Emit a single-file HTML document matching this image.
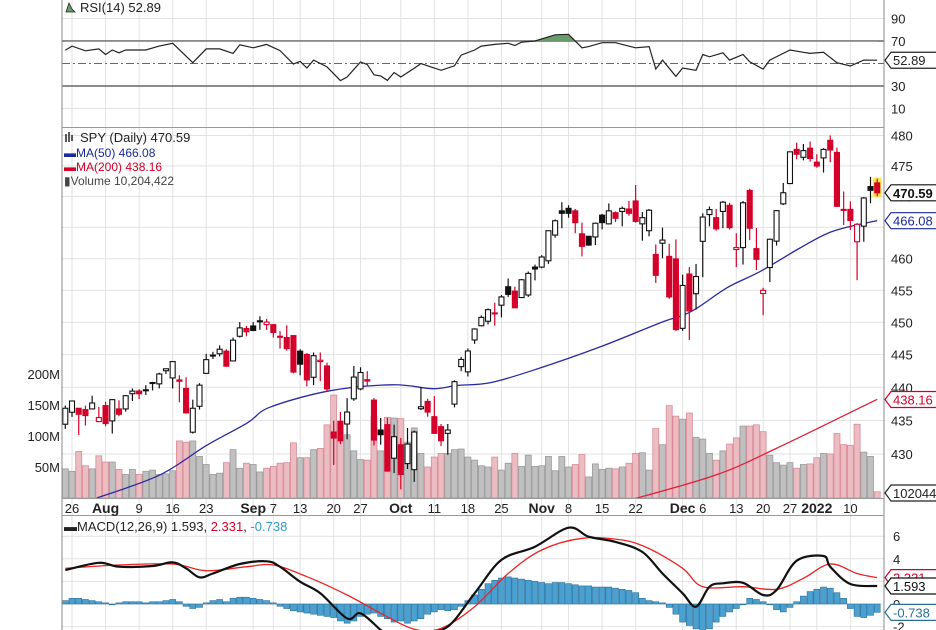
<!DOCTYPE html>
<html><head><meta charset="utf-8"><style>
body{margin:0;background:#fff;}
svg{display:block;font-family:"Liberation Sans",Arial,sans-serif;}
</style></head><body>
<svg id="c" width="936" height="630" viewBox="0 0 936 630" xmlns="http://www.w3.org/2000/svg">
<defs>
<clipPath id="cpMain"><rect x="62" y="128" width="822" height="370"/></clipPath>
<clipPath id="cpMacd"><rect x="62" y="516" width="822" height="114"/></clipPath>
<clipPath id="cpOb"><rect x="62" y="0" width="822" height="41.5"/></clipPath>
</defs>
<g id="grid"></g>
<g id="vol" clip-path="url(#cpMain)"></g>
<g id="ma" clip-path="url(#cpMain)"></g>
<g id="candles" clip-path="url(#cpMain)"></g>
<g id="rsi"></g>
<g id="macd" clip-path="url(#cpMacd)"></g>
<g id="frame">
<line x1="62" y1="0" x2="62" y2="630" stroke="#888"/>
<line x1="884" y1="0" x2="884" y2="630" stroke="#888"/>
<line x1="62" y1="127.5" x2="884" y2="127.5" stroke="#999"/>
<line x1="62" y1="498.5" x2="884" y2="498.5" stroke="#999"/>
<line x1="62" y1="515.5" x2="884" y2="515.5" stroke="#999"/>
</g>
<g id="labels">
<text x="80" y="12" font-size="13" fill="#222">RSI(14) 52.89</text>
<path d="M66 12 L69 3 L72 9 L75 12 Z" fill="#6b9a6b" stroke="#222" stroke-width="0.8"/>
<text x="80" y="142" font-size="13" fill="#222">SPY (Daily) 470.59</text>
<path d="M66 134v8M69 132v10M72 135v6" stroke="#222" stroke-width="1.5"/>
<text x="64" y="157" font-size="12" fill="#1a2a9a">▬MA(50) 466.08</text>
<text x="64" y="171" font-size="12" fill="#d4002a">▬MA(200) 438.16</text>
<text x="64" y="185" font-size="12" fill="#444">▮Volume 10,204,422</text>
<text x="64" y="531" font-size="13" fill="#222">▬MACD(12,26,9) 1.593, <tspan fill="#d4002a">2.331</tspan>, <tspan fill="#3399cc">-0.738</tspan></text>
</g>
</svg>
<script>
// ---- data ----
const dates = ["Jul23","Jul26","Jul27","Jul28","Jul29","Jul30","Aug2","Aug3","Aug4","Aug5","Aug6","Aug9","Aug10","Aug11","Aug12","Aug13","Aug16","Aug17","Aug18","Aug19","Aug20","Aug23","Aug24","Aug25","Aug26","Aug27","Aug30","Aug31","Sep1","Sep2","Sep3","Sep7","Sep8","Sep9","Sep10","Sep13","Sep14","Sep15","Sep16","Sep17","Sep20","Sep21","Sep22","Sep23","Sep24","Sep27","Sep28","Sep29","Sep30","Oct1","Oct4","Oct5","Oct6","Oct7","Oct8","Oct11","Oct12","Oct13","Oct14","Oct15","Oct18","Oct19","Oct20","Oct21","Oct22","Oct25","Oct26","Oct27","Oct28","Oct29","Nov1","Nov2","Nov3","Nov4","Nov5","Nov8","Nov9","Nov10","Nov11","Nov12","Nov15","Nov16","Nov17","Nov18","Nov19","Nov22","Nov23","Nov24","Nov26","Nov29","Nov30","Dec1","Dec2","Dec3","Dec6","Dec7","Dec8","Dec9","Dec10","Dec13","Dec14","Dec15","Dec16","Dec17","Dec20","Dec21","Dec22","Dec23","Dec27","Dec28","Dec29","Dec30","Dec31","Jan3","Jan4","Jan5","Jan6","Jan7","Jan10","Jan11","Jan12","Jan13"];
const opens = [437.5,439.3,439.9,439.7,439.8,437.9,440.3,438.0,439.8,439.8,442.1,442.5,442.6,443.8,443.6,445.6,444.5,444.2,442.9,436.3,440.2,445.2,447.9,448.2,448.6,447.1,450.9,452.1,452.5,453.3,452.7,452.7,450.9,450.7,451.0,448.6,448.1,444.6,447.0,444.9,434.9,436.5,436.1,439.9,441.4,442.8,439.7,435.2,436.0,431.0,433.0,430.2,429.3,438.4,439.5,437.2,435.7,434.7,439.1,444.8,444.0,448.9,451.1,451.8,453.1,454.3,457.2,456.5,455.5,455.9,460.3,460.3,461.3,465.4,469.3,469.7,469.3,465.6,465.2,465.1,468.6,467.2,469.0,469.2,469.6,470.9,467.2,466.1,462.3,464.1,462.0,461.6,450.7,459.2,456.1,464.4,468.7,468.2,469.2,470.2,463.1,463.4,472.6,461.6,454.5,458.6,462.8,468.8,472.1,477.7,476.4,477.9,475.6,476.3,479.2,477.2,467.9,467.9,462.7,465.2,471.6,472.2];
const highs = [440.3,441.0,439.9,440.3,441.8,440.1,440.9,441.3,441.1,441.9,442.9,442.8,443.4,443.9,445.3,445.9,447.1,444.9,444.6,441.2,443.7,448.2,448.5,449.5,448.9,450.7,453.1,452.5,453.1,454.0,453.6,452.8,451.7,452.6,451.1,448.9,448.3,448.4,448.4,445.4,436.6,437.9,440.0,444.9,444.7,444.1,440.0,437.0,437.0,436.0,434.0,435.5,435.1,441.7,439.9,440.3,436.1,436.1,442.7,446.3,447.6,450.7,452.7,453.8,454.7,455.9,458.5,457.2,458.4,459.6,460.7,462.2,465.2,467.9,470.7,470.2,469.6,467.4,465.3,467.4,468.8,470.5,469.2,470.0,470.9,473.5,469.1,469.6,463.9,466.6,464.0,464.7,459.1,460.3,460.8,468.9,470.0,469.6,470.9,470.6,465.7,470.9,472.9,464.9,455.4,463.2,467.8,472.2,477.3,478.8,478.6,479.0,476.9,477.9,480.0,478.0,470.8,469.2,465.7,469.9,473.2,472.9];
const lows = [436.8,438.6,435.9,437.3,439.8,437.8,437.2,436.1,438.7,439.4,441.0,441.3,441.9,442.6,442.9,445.1,442.9,440.8,439.2,436.1,439.7,445.1,447.4,447.8,446.2,447.1,450.7,450.9,451.7,451.9,451.9,450.7,449.0,448.7,445.2,444.9,443.2,443.4,444.0,441.0,430.0,433.1,433.8,439.6,441.2,441.9,432.9,433.0,429.0,428.8,426.4,429.4,427.5,438.2,437.2,434.7,432.8,431.5,438.6,444.1,443.3,448.3,451.0,451.3,451.1,452.4,455.6,453.9,455.5,455.6,458.2,460.1,460.8,465.0,466.5,468.2,465.7,462.0,463.7,463.8,466.3,467.1,467.5,466.8,468.5,467.4,464.5,465.2,457.8,461.7,455.3,450.3,450.3,448.9,453.6,458.7,466.8,466.1,466.5,466.3,460.3,460.7,464.6,458.2,451.1,456.3,462.1,468.6,472.0,476.1,475.9,475.7,474.7,473.9,475.6,468.3,465.4,464.6,456.6,462.7,468.9,470.0];
const closes = [439.9,441.0,439.0,438.8,440.7,438.5,437.6,441.2,439.0,441.8,442.5,442.1,442.7,443.8,445.1,445.9,447.0,444.0,439.2,439.9,443.4,447.3,448.0,448.9,446.3,450.3,452.2,451.6,451.8,453.2,453.1,451.5,450.9,449.0,445.4,446.6,444.2,447.9,447.2,441.4,434.0,433.6,437.9,443.2,443.9,442.6,433.7,434.5,429.1,434.2,428.6,433.1,434.9,438.7,437.9,434.7,433.6,435.2,442.5,445.9,447.2,450.6,452.4,453.6,453.1,455.6,456.0,453.9,458.3,459.3,460.0,461.9,466.1,467.7,468.9,468.9,467.4,463.6,463.8,467.3,467.4,469.3,468.1,469.7,468.9,467.6,468.2,469.4,459.0,464.6,455.6,450.5,457.4,453.4,458.8,468.3,469.5,466.4,470.7,466.6,463.4,470.6,466.5,459.9,455.0,463.1,467.7,470.6,477.3,476.9,477.5,476.2,474.96,477.7,477.6,468.4,467.9,466.1,465.5,469.75,471.0,470.59];
const divExIndex = [39, 103];
const divAmount = [1.43, 1.63];
const volumesM = [47,43,75,52,47,68,58,58,46,38,46,38,43,45,38,39,44,92,90,92,67,54,38,40,57,78,48,56,54,42,48,51,56,57,89,65,65,78,80,118,166,92,102,76,62,61,131,76,130,129,128,90,113,72,50,66,72,72,78,79,66,61,52,50,66,45,56,72,51,69,51,52,67,44,67,50,54,70,34,55,46,48,47,50,56,72,73,45,112,86,149,132,127,137,98,95,72,61,76,87,97,116,116,118,107,69,57,53,57,48,54,55,65,72,71,104,86,85,119,74,67,10];
const ma50Idx = [4.7,14.1,21.1,27.1,30.5,39.5,48.8,54.8,58.4,63.3,70.3,79.7,88.6,93.3,98.6,103.6,109.5,114.4,121];
const ma50 = [423.5,426.9,431.3,434.6,437.0,439.5,440.4,439.8,440.3,440.7,442.8,446.2,449.9,451.7,455.4,458.0,461.7,464.4,466.1];
const ma200Idx = [84.5,97,105.9,121];
const ma200 = [423.3,426.9,430.8,438.2];
const rsiIdx = [0,1,3,5,6,7,8,9,12,14,16,19,21,23,25,26,28,30,32,34,35,36,37,39,41,42,44,45,46,47,48,49,50,52,53,54,56,58,59,61,62,64,66,67,68,70,73,75,77,78,80,82,83,85,87,88,89,91,92,94,95,96,98,99,101,102,104,105,108,110,111,113,115,117,119,121];
const rsiVals = [61.8,65.5,61.3,63,58,62,59.5,62,62,65.5,68,50.7,63,63,59,66.6,64,67,61.5,49.5,52,46,53,47,34.8,38,51.3,49,40,39,35,42,38,45.7,50,48,44,48,57.5,62,65.5,67,68,66,69,70,75.5,76,64,65,68.5,68.5,67,64,65,45,53,38.5,46,44,58,56,59.5,53,58,51.5,45,53,62,60,59,60,50.7,47.8,53,52.89];
const macdIdx = [0,5,8,13,16,18,20,22,26,30,32,35,38,42,44,47,49,53,57,61,65,70,75,78,82,86,89,92,94,96,98,101,104,106,109,113,114,117,121];
const macdVals = [3.0,3.65,3.3,3.36,3.69,3.16,2.36,2.7,3.54,3.78,3.3,1.97,0.95,-1.27,-0.82,-2.3,-3.3,-2.6,-2.0,0.95,3.9,5.07,6.75,5.96,5.5,4.6,2.7,0.95,-0.24,1.53,1.83,1.88,0.8,1.24,3.83,4.25,3.3,1.77,1.593];
const signalIdx = [0,8,16,21,27,31,36,42,47,52,56,61,66,71,77,83,87,92,95,101,106,110,114,118,121];
const signalVals = [3.16,3.45,3.54,2.95,3.3,3.45,2.42,0.8,-0.82,-2.24,-2.15,-0.24,2.7,4.78,5.81,5.66,4.9,3.16,1.53,1.53,1.3,2.27,3.54,2.7,2.331];
const histVals = [0.3,0.5,0.5,0.4,0.3,0.2,0.1,0.0,0.1,0.2, 0.2,0.2,0.1,0.2,0.2,0.3,0.4,0.2,-0.2,-0.4, -0.3,0.1,0.3,0.4,0.2,0.5,0.6,0.6,0.5,0.4, 0.3,0.1,-0.2,-0.4,-0.6,-0.7,-0.8,-0.9,-1.0,-1.1, -1.2,-1.5,-1.7,-1.5,-1.1,-0.9,-0.8,-1.1,-1.3,-1.6, -1.5,-1.7,-1.5,-1.3,-0.9,-0.7,-0.5,-0.6,-0.5,-0.2, 0.3,0.8,1.3,1.8,2.1,2.3,2.4,2.3,2.2,2.1, 2.0,1.9,1.8,1.9,1.9,1.8,1.7,1.6,1.6,1.5, 1.5,1.5,1.4,1.3,1.2,1.0,0.5,0.3,0.2,0.1, -0.3,-0.9,-1.6,-1.9,-2.2,-2.4,-2.2,-1.6,-1.1,-0.7, -0.4,0.0,0.5,0.4,0.2,0.0,-0.5,-0.7,-0.3,0.2, 0.7,1.1,1.3,1.5,1.4,1.0,0.5,-0.4,-1.1,-1.2,-1.0,-0.738];
const dateTickIdx = [1,6,11,16,21,28,31,35,40,44,50,55,60,65,71,75,80,85,92,95,100,104,108,112,117];
const dateTickLabels = ["26","Aug","9","16","23","Sep","7","13","20","27","Oct","11","18","25","Nov","8","15","22","Dec","6","13","20","27","2022","10"];
const priceTicks = [430,435,440,445,450,455,460,465,470,475,480];
const volTicks = [50,100,150,200];
const rsiTicks = [10,30,50,70,90];
const macdTicks = [-2,0,2,4,6];

// ---- scales ----
const NS = "http://www.w3.org/2000/svg";
const xOf = i => 65.3 + i * 6.71;
const py = p => 135.5 + 2895 * Math.log(480 / p);
const vy = v => 498 - v * 0.62;
const ry = r => 63.5 - (r - 50) * 1.125;
const my = v => 604 - v * 11.3;
function mk(tag, attrs, parent) {
  const e = document.createElementNS(NS, tag);
  for (const k in attrs) e.setAttribute(k, attrs[k]);
  parent.appendChild(e);
  return e;
}
function adj(i, p) {
  let a = 0;
  for (let k = 0; k < divExIndex.length; k++) if (i < divExIndex[k]) a += divAmount[k];
  return p - a;
}
const O = opens.map((v, i) => adj(i, v)), H = highs.map((v, i) => adj(i, v)),
      L = lows.map((v, i) => adj(i, v)), C = closes.map((v, i) => adj(i, v));

// ---- grid ----
const grid = document.getElementById('grid');
const labels = document.getElementById('labels');
dateTickIdx.forEach((ix, k) => {
  const x = xOf(ix);
  const g = mk('line', {x1: x, y1: 0, x2: x, y2: 630, stroke: '#e2e2e2'}, grid);
  
  
  const lab = dateTickLabels[k];
  const bold = isNaN(+lab) || lab === "2022";
  const t = mk('text', {x: x, y: 513, 'font-size': bold ? 14 : 13, 'text-anchor': 'middle', fill: '#222', 'font-weight': bold ? 'bold' : 'normal'}, labels);
  t.textContent = lab;
  
  
});
priceTicks.forEach(p => {
  const y = py(p);
  mk('line', {x1: 62, y1: y, x2: 884, y2: y, stroke: '#e2e2e2'}, grid);
  if (p !== 465) {
    const t = mk('text', {x: 891, y: y + 5, 'font-size': 13, fill: '#222'}, labels);
    t.textContent = p;
    
    
  }
});
volTicks.forEach(v => {
  const t = mk('text', {x: 60, y: vy(v) + 5, 'font-size': 13, 'text-anchor': 'end', fill: '#222'}, labels);
  t.textContent = v + 'M';
  
  
});
rsiTicks.forEach(r => {
  const y = ry(r);
  const attrs = {x1: 62, y1: y, x2: 884, y2: y, stroke: '#e2e2e2'};
  if (r === 30 || r === 70) { attrs.stroke = '#666'; attrs['stroke-width'] = 1.5; }
  if (r === 50) { attrs.stroke = '#666'; attrs['stroke-dasharray'] = '8,3,2,3'; }
  mk('line', attrs, grid);
  const t = mk('text', {x: 891, y: y + 5, 'font-size': 13, fill: '#222'}, labels);
  t.textContent = r === 50 ? '' : r;
  
  
});
macdTicks.forEach(v => {
  const y = my(v);
  mk('line', {x1: 62, y1: y, x2: 884, y2: y, stroke: '#e2e2e2'}, grid);
  if (v !== 2) {
    const t = mk('text', {x: 893, y: y + 5, 'font-size': 13, fill: '#222'}, labels);
    t.textContent = v;
    
    
  }
});

// ---- volume ----
const volG = document.getElementById('vol');
volumesM.forEach((v, i) => {
  const down = i > 0 && closes[i] < closes[i - 1];
  const r = mk('rect', {x: xOf(i) - 3, y: vy(v), width: 6, height: 498 - vy(v),
    fill: down ? '#ebbcc2' : '#c0c0c0', stroke: down ? '#d98a96' : '#9a9a9a', 'stroke-width': 0.8}, volG);
  
  
});

// ---- line helpers ----
function linePath(idxs, vals, yf) {
  return idxs.map((ix, k) => (k ? 'L' : 'M') + xOf(ix).toFixed(1) + ' ' + yf(vals[k]).toFixed(1)).join(' ');
}
function smoothPath(idxs, vals, yf) {
  const P = idxs.map((ix, k) => [xOf(ix), yf(vals[k])]);
  let d = 'M' + P[0][0].toFixed(1) + ' ' + P[0][1].toFixed(1);
  for (let k = 0; k < P.length - 1; k++) {
    const p0 = P[Math.max(0, k - 1)], p1 = P[k], p2 = P[k + 1], p3 = P[Math.min(P.length - 1, k + 2)];
    const c1x = p1[0] + (p2[0] - p0[0]) / 6, c1y = p1[1] + (p2[1] - p0[1]) / 6;
    const c2x = p2[0] - (p3[0] - p1[0]) / 6, c2y = p2[1] - (p3[1] - p1[1]) / 6;
    d += ' C' + c1x.toFixed(1) + ' ' + c1y.toFixed(1) + ' ' + c2x.toFixed(1) + ' ' + c2y.toFixed(1) + ' ' + p2[0].toFixed(1) + ' ' + p2[1].toFixed(1);
  }
  return d;
}

// ---- moving averages ----
const maG = document.getElementById('ma');
const m50 = mk('path', {d: smoothPath(ma50Idx, ma50, py), fill: 'none', stroke: '#2a2aa0', 'stroke-width': 1.3}, maG);


const m200 = mk('path', {d: smoothPath(ma200Idx, ma200, py), fill: 'none', stroke: '#e0203a', 'stroke-width': 1.3}, maG);



// ---- candles ----
const cg = document.getElementById('candles');
const last = C.length - 1;
const hl = mk('rect', {x: xOf(last) - 4.5, y: py(H[last]) - 1, width: 9, height: py(L[last]) - py(H[last]) + 2, fill: '#ffe84a'}, cg);


C.forEach((c, i) => {
  const o = O[i], x = xOf(i);
  const col = (i === 0 || closes[i] >= closes[i - 1]) ? '#111' : '#d4002a';
  const hollow = c >= o;
  const g = mk('g', {}, cg);
  
  
  mk('line', {x1: x, y1: py(H[i]), x2: x, y2: py(L[i]), stroke: col, 'stroke-width': 1.2}, g);
  const top = py(Math.max(o, c)), bot = py(Math.min(o, c));
  mk('rect', {x: x - 2.5, y: top, width: 5, height: Math.max(1, bot - top),
    fill: hollow ? '#fff' : col, stroke: col, 'stroke-width': 1.1}, g);
});

// ---- RSI ----
const rg = document.getElementById('rsi');
const rd = linePath(rsiIdx, rsiVals, ry);
const obFill = mk('path', {d: rd + ' L' + xOf(rsiIdx[rsiIdx.length - 1]) + ' ' + ry(70) + ' L' + xOf(0) + ' ' + ry(70) + ' Z', fill: '#6b9a6b', 'clip-path': 'url(#cpOb)'}, rg);


const rl = mk('path', {d: rd, fill: 'none', stroke: '#222', 'stroke-width': 1.2}, rg);



// ---- MACD ----
const mg = document.getElementById('macd');
histVals.forEach((h, i) => {
  const y0 = my(0), y1 = my(h);
  const r = mk('rect', {x: xOf(i) - 3, y: Math.min(y0, y1), width: 6, height: Math.max(0.8, Math.abs(y1 - y0)),
    fill: '#4aa0d0', stroke: '#2a6f99', 'stroke-width': 0.6}, mg);
  
  
});
const sl = mk('path', {d: smoothPath(signalIdx, signalVals, my), fill: 'none', stroke: '#ee2222', 'stroke-width': 1.3}, mg);


const ml = mk('path', {d: smoothPath(macdIdx, macdVals, my), fill: 'none', stroke: '#111', 'stroke-width': 2.2}, mg);



// ---- right-side value tags ----
function tag(y, text, color, bold, name) {
  const w = text.length * 7.4 + 10;
  const g = mk('g', {}, labels);
  
  
  mk('path', {d: `M885 ${y} L891 ${y - 8} L${891 + w} ${y - 8} L${891 + w} ${y + 8} L891 ${y + 8} Z`, fill: '#fff', stroke: color, 'stroke-width': 1.2}, g);
  const t = mk('text', {x: 893, y: y + 5, 'font-size': 13, fill: color, 'font-weight': bold ? 'bold' : 'normal'}, g);
  t.textContent = text;
}
tag(ry(52.89), '52.89', '#222', false, 'rsi-value-tag');
tag(py(470.59), '470.59', '#111', true, 'price-value-tag');
tag(py(466.08), '466.08', '#1a2a9a', false, 'ma50-value-tag');
tag(py(438.16), '438.16', '#d4002a', false, 'ma200-value-tag');
tag(493, '102044', '#222', false, 'volume-value-tag');
tag(my(2.331), '2.331', '#d4002a', false, 'signal-value-tag');
tag(my(1.593), '1.593', '#111', false, 'macd-value-tag');
tag(my(-0.738), '-0.738', '#2a6f99', false, 'histogram-value-tag');
</script>
</body></html>
